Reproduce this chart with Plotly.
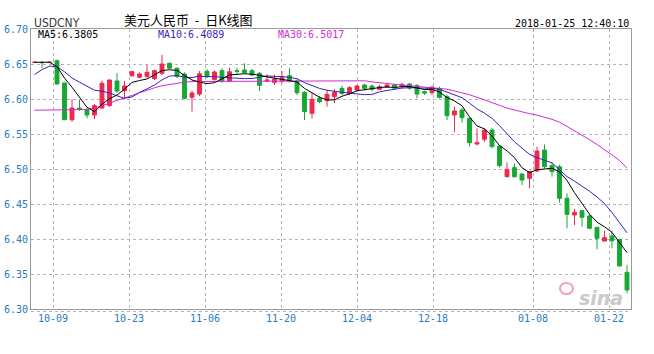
import plotly.graph_objects as go

# ---------------- data ----------------
opens = [6.6525, 6.6525, 6.6525, 6.6547, 6.6229, 6.5704, 6.5871, 6.5843, 6.5771, 6.5871,
         6.5905, 6.6257, 6.6119, 6.6333, 6.6310, 6.6324, 6.6290, 6.6367, 6.6510, 6.6438,
         6.6357, 6.6024, 6.6070, 6.6395, 6.6280, 6.6405, 6.6257, 6.6405, 6.6414, 6.6405,
         6.6367, 6.6257, 6.6238, 6.6257, 6.6333, 6.6257, 6.6095, 6.5795, 6.6010, 6.5976,
         6.6033, 6.6152, 6.6081, 6.6129, 6.6200, 6.6185, 6.6138, 6.6171, 6.6200, 6.6176,
         6.6214, 6.6190, 6.6105, 6.6090, 6.6152, 6.6033, 6.5771, 6.5843, 6.5724, 6.5357,
         6.5424, 6.5557, 6.5329, 6.4890, 6.5019, 6.4929, 6.4867, 6.4971, 6.5271, 6.5048,
         6.5033, 6.4581, 6.4343, 6.4405, 6.4329, 6.4167, 6.3971, 6.4043, 6.3995, 6.3524]
highs = [6.6525, 6.6535, 6.6525, 6.6563, 6.6229, 6.5996, 6.5990, 6.5880, 6.5929, 6.6262,
         6.6280, 6.6370, 6.6257, 6.6405, 6.6380, 6.6486, 6.6420, 6.6630, 6.6520, 6.6450,
         6.6380, 6.6120, 6.6400, 6.6430, 6.6410, 6.6440, 6.6448, 6.6448, 6.6510, 6.6430,
         6.6385, 6.6352, 6.6350, 6.6400, 6.6438, 6.6280, 6.6114, 6.6090, 6.6043, 6.6130,
         6.6140, 6.6190, 6.6186, 6.6200, 6.6220, 6.6205, 6.6200, 6.6220, 6.6215, 6.6230,
         6.6230, 6.6215, 6.6120, 6.6190, 6.6176, 6.6057, 6.5890, 6.5867, 6.5733, 6.5581,
         6.5581, 6.5590, 6.5343, 6.5095, 6.5080, 6.4935, 6.4970, 6.5320, 6.5352, 6.5095,
         6.5060, 6.4652, 6.4430, 6.4414, 6.4343, 6.4170, 6.4120, 6.4114, 6.4000, 6.3630]
lows = [6.6525, 6.6445, 6.6525, 6.6210, 6.5700, 6.5676, 6.5829, 6.5724, 6.5714, 6.5857,
        6.5890, 6.6090, 6.5996, 6.6318, 6.6295, 6.6300, 6.6270, 6.6340, 6.6430, 6.6300,
        6.6000, 6.5820, 6.6040, 6.6300, 6.6260, 6.6230, 6.6245, 6.6352, 6.6360, 6.6330,
        6.6114, 6.6240, 6.6200, 6.6220, 6.6233, 6.6057, 6.5700, 6.5720, 6.5940, 6.5890,
        6.5940, 6.6057, 6.6060, 6.6110, 6.6120, 6.6110, 6.6130, 6.6160, 6.6140, 6.6155,
        6.6130, 6.6010, 6.6057, 6.6060, 6.6010, 6.5700, 6.5524, 6.5662, 6.5320, 6.5340,
        6.5390, 6.5295, 6.5020, 6.4880, 6.4876, 6.4771, 6.4724, 6.4960, 6.5010, 6.4890,
        6.4520, 6.4153, 6.4200, 6.4176, 6.4140, 6.3852, 6.3962, 6.3867, 6.3614, 6.3224]
closes = [6.6525, 6.6520, 6.6525, 6.6214, 6.5704, 6.5871, 6.5850, 6.5771, 6.5905, 6.6224,
          6.6271, 6.6114, 6.6186, 6.6390, 6.6357, 6.6381, 6.6405, 6.6500, 6.6440, 6.6320,
          6.6010, 6.6086, 6.6360, 6.6324, 6.6386, 6.6260, 6.6390, 6.6395, 6.6376, 6.6343,
          6.6195, 6.6270, 6.6286, 6.6305, 6.6257, 6.6090, 6.5820, 6.5996, 6.5962, 6.6067,
          6.6095, 6.6081, 6.6162, 6.6186, 6.6152, 6.6140, 6.6176, 6.6200, 6.6155, 6.6210,
          6.6155, 6.6070, 6.6085, 6.6170, 6.6020, 6.5762, 6.5829, 6.5733, 6.5376, 6.5376,
          6.5557, 6.5320, 6.5048, 6.4995, 6.4890, 6.4843, 6.4962, 6.5257, 6.5033, 6.4962,
          6.4581, 6.4352, 6.4381, 6.4310, 6.4153, 6.4010, 6.4019, 6.3976, 6.3614, 6.3271]

ma5 = [6.6525, 6.6525, 6.6525, 6.6463, 6.6299, 6.6168, 6.6033, 6.5882, 6.5820, 6.5924,
       6.6004, 6.6057, 6.6140, 6.6237, 6.6264, 6.6286, 6.6344, 6.6407, 6.6417, 6.6409,
       6.6335, 6.6271, 6.6243, 6.6220, 6.6233, 6.6283, 6.6344, 6.6351, 6.6361, 6.6353,
       6.6340, 6.6316, 6.6294, 6.6280, 6.6263, 6.6242, 6.6152, 6.6094, 6.6025, 6.5987,
       6.5988, 6.6040, 6.6073, 6.6118, 6.6135, 6.6144, 6.6163, 6.6171, 6.6165, 6.6176,
       6.6179, 6.6158, 6.6135, 6.6138, 6.6100, 6.6021, 6.5973, 6.5903, 6.5744, 6.5615,
       6.5574, 6.5472, 6.5335, 6.5259, 6.5162, 6.5019, 6.4948, 6.4989, 6.4997, 6.5011,
       6.4959, 6.4837, 6.4662, 6.4517, 6.4355, 6.4241, 6.4175, 6.4094, 6.3954, 6.3805]
ma10 = [6.6350, 6.6420, 6.6470, 6.6460, 6.6390, 6.6300, 6.6240, 6.6180, 6.6125, 6.6111,
        6.6086, 6.6045, 6.6011, 6.6029, 6.6094, 6.6145, 6.6200, 6.6273, 6.6327, 6.6336,
        6.6310, 6.6308, 6.6325, 6.6318, 6.6321, 6.6309, 6.6308, 6.6297, 6.6291, 6.6293,
        6.6312, 6.6330, 6.6323, 6.6321, 6.6308, 6.6291, 6.6234, 6.6194, 6.6152, 6.6125,
        6.6115, 6.6096, 6.6084, 6.6072, 6.6061, 6.6066, 6.6102, 6.6122, 6.6141, 6.6156,
        6.6162, 6.6161, 6.6153, 6.6151, 6.6138, 6.6100, 6.6066, 6.6019, 6.5941, 6.5858,
        6.5798, 6.5723, 6.5619, 6.5502, 6.5389, 6.5297, 6.5210, 6.5162, 6.5128, 6.5087,
        6.4989, 6.4892, 6.4826, 6.4757, 6.4683, 6.4600, 6.4506, 6.4378, 6.4236, 6.4089]
ma30 = [6.5840, 6.5840, 6.5840, 6.5840, 6.5840, 6.5840, 6.5840, 6.5850, 6.5870, 6.5900,
        6.5940, 6.5980, 6.6010, 6.6050, 6.6090, 6.6130, 6.6160, 6.6190, 6.6210, 6.6230,
        6.6240, 6.6250, 6.6250, 6.6250, 6.6250, 6.6250, 6.6250, 6.6250, 6.6250, 6.6250,
        6.6250, 6.6250, 6.6250, 6.6250, 6.6250, 6.6250, 6.6260, 6.6260, 6.6260, 6.6260,
        6.6260, 6.6260, 6.6260, 6.6260, 6.6260, 6.6245, 6.6230, 6.6220, 6.6210, 6.6200,
        6.6190, 6.6180, 6.6175, 6.6165, 6.6155, 6.6140, 6.6115, 6.6090, 6.6060, 6.6025,
        6.5990, 6.5950, 6.5910, 6.5870, 6.5840, 6.5810, 6.5790, 6.5770, 6.5745, 6.5710,
        6.5670, 6.5610, 6.5550, 6.5490, 6.5420, 6.5350, 6.5280, 6.5200, 6.5120, 6.5017]

date_labels = ["10-09", "10-23", "11-06", "11-20", "12-04", "12-18", "01-08", "01-22"]
y_ticks = [6.30, 6.35, 6.40, 6.45, 6.50, 6.55, 6.60, 6.65, 6.70]

title_text = "美元人民币&nbsp;&nbsp;-&nbsp;&nbsp;日K线图"
symbol_text = "USDCNY"
stamp_text = "2018-01-25 12:40:10"

# ---------------- styling / layout ----------------
RED = "#f0284f"
GREEN = "#18a832"
BLUE_TXT = "#1f7cc0"
MA10_C = "#3a1fc0"
MA30_C = "#d42bd4"
MONO = "DejaVu Sans Mono, Liberation Mono, monospace"

idx = list(range(len(closes)))

# pixel geometry of the plot box (654 x 354 page)
L, R, T, B = 31, 631, 29, 309
slot = 7.5
first_center = 34.5
x_lo = (L - first_center) / slot
x_hi = (R - first_center) / slot
grid_px = [53, 129, 205, 281, 357, 433, 533, 609]
grid_x = [(p - first_center) / slot for p in grid_px]


def px(p):
    return (p - L) / (R - L)


def py(p):
    return (B - p) / (B - T)


fig = go.Figure()
fig.add_trace(go.Candlestick(
    x=idx, open=opens, high=highs, low=lows, close=closes,
    increasing=dict(line=dict(color=RED, width=1), fillcolor=RED),
    decreasing=dict(line=dict(color=GREEN, width=1), fillcolor=GREEN),
    whiskerwidth=0, showlegend=False, hoverinfo="skip"))
fig.add_trace(go.Scatter(x=idx, y=ma30, mode="lines", line=dict(color=MA30_C, width=1),
                         showlegend=False, hoverinfo="skip"))
fig.add_trace(go.Scatter(x=idx, y=ma10, mode="lines", line=dict(color=MA10_C, width=1),
                         showlegend=False, hoverinfo="skip"))
fig.add_trace(go.Scatter(x=idx, y=ma5, mode="lines", line=dict(color="#000000", width=1),
                         showlegend=False, hoverinfo="skip"))

axis_common = dict(showgrid=True, gridcolor="#b4b4b4", griddash="dot", gridwidth=1,
                   showline=True, linecolor="#9a9a9a", linewidth=1, mirror=True,
                   zeroline=False, ticks="", fixedrange=True, automargin=False,
                   tickfont=dict(family=MONO, size=10, color=BLUE_TXT))

fig.update_layout(
    width=654, height=354,
    margin=dict(l=L, r=654 - R, t=T, b=354 - B, autoexpand=False),
    paper_bgcolor="white", plot_bgcolor="white",
    boxgap=0.26,
    xaxis=dict(range=[x_lo, x_hi], tickmode="array", tickvals=grid_x, ticktext=date_labels,
               rangeslider=dict(visible=False), **axis_common),
    yaxis=dict(range=[6.30, 6.70], tickmode="array", tickvals=y_ticks,
               ticktext=[f"{v:.2f}" for v in y_ticks], **axis_common),
    showlegend=False,
)

ann = [
    dict(text=symbol_text, x=px(32), y=py(22.5), xanchor="left", yanchor="middle",
         font=dict(family="Liberation Sans Narrow, DejaVu Sans Condensed, sans-serif",
                   size=12, color="#3a3a3a")),
    dict(text=title_text, x=px(188.5), y=py(20), xanchor="center", yanchor="middle",
         font=dict(family="Noto Sans CJK SC", size=13, color="#000000")),
    dict(text=stamp_text, x=px(631), y=py(23), xanchor="right", yanchor="middle",
         font=dict(family=MONO, size=10, color="#000000")),
    dict(text=f"MA5:{ma5[-1]:.4f}", x=px(36), y=py(34), xanchor="left", yanchor="middle",
         font=dict(family=MONO, size=10, color="#000000")),
    dict(text=f"MA10:{ma10[-1]:.4f}", x=px(155.5), y=py(34), xanchor="left", yanchor="middle",
         font=dict(family=MONO, size=10, color=MA10_C)),
    dict(text=f"MA30:{ma30[-1]:.4f}", x=px(276), y=py(34), xanchor="left", yanchor="middle",
         font=dict(family=MONO, size=10, color=MA30_C)),
    dict(text="<b><i>sina</i></b>", x=px(601), y=py(298), xanchor="center", yanchor="middle",
         font=dict(family="DejaVu Sans", size=19, color="#c9c9c9")),
]
for a in ann:
    a.update(xref="paper", yref="paper", showarrow=False)
fig.update_layout(annotations=ann)

fig.add_shape(type="line", xref="paper", yref="paper", x0=0, x1=1,
              y0=py(311.5), y1=py(311.5), line=dict(color="#b4b4b4", width=1, dash="dot"))
fig.add_shape(type="circle", xref="paper", yref="paper",
              x0=px(560), x1=px(573), y0=py(294), y1=py(283),
              line=dict(color="#f2a0b4", width=2))

fig.write_html("out.html")
